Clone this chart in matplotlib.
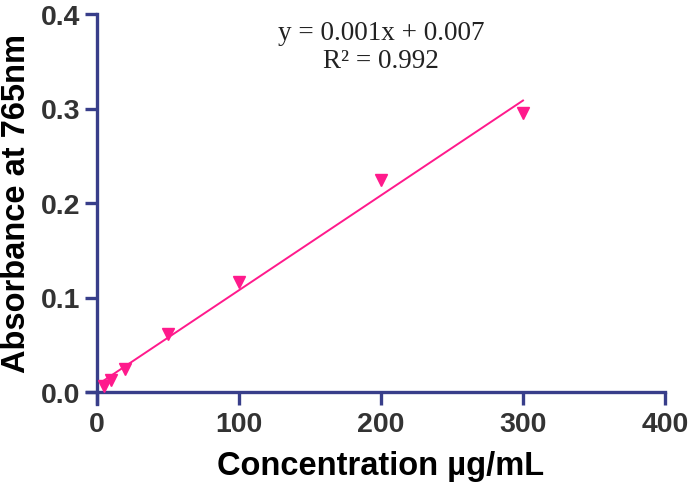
import numpy as np
import matplotlib
matplotlib.use('Agg')
import matplotlib.pyplot as plt

conc = [5, 10, 20, 50, 100, 200, 300]
absorb = [0.006, 0.013, 0.024, 0.061, 0.116, 0.224, 0.295]
eq_text = 'y = 0.001x + 0.007\nR² = 0.992'

AXIS_COLOR = '#383E8A'
PINK = '#FF1A8C'

plt.rcParams['font.family'] = ['Liberation Sans', 'DejaVu Sans']

fig = plt.figure(figsize=(6.89, 4.89), dpi=100)
ax = fig.add_axes([97 / 689, 1 - 393 / 489, 568 / 689, 378 / 489])

slope, icpt = np.polyfit(conc, absorb, 1)
xfit = np.array([3, max(conc)])
ax.plot(xfit, slope * xfit + icpt, color=PINK, lw=1.4, zorder=3)
ax.plot(conc, absorb, 'v', color=PINK, ms=9, mec=PINK, zorder=4, clip_on=False)

ax.set_xlim(0, 400)
ax.set_ylim(0, 0.4)
ax.set_xticks([0, 100, 200, 300, 400])
ax.set_yticks([0.0, 0.1, 0.2, 0.3, 0.4])
ax.set_yticklabels(['0.0', '0.1', '0.2', '0.3', '0.4'])

for s in ['top', 'right']:
    ax.spines[s].set_visible(False)
for s in ['left', 'bottom']:
    ax.spines[s].set_color(AXIS_COLOR)
    ax.spines[s].set_linewidth(2.4)
    ax.spines[s].set_clip_on(False)
ax.spines['left'].set_bounds(-0.0125, 0.4)
ax.spines['bottom'].set_bounds(-7, 400)

ax.tick_params(axis='both', colors=AXIS_COLOR, width=2.4, length=9,
               labelcolor='#333333', labelsize=20.5)
ax.tick_params(axis='x', pad=5)
ax.tick_params(axis='y', pad=3)
for lbl in ax.get_xticklabels() + ax.get_yticklabels():
    lbl.set_fontweight('bold')

ax.set_xlabel('Concentration µg/mL', fontsize=23.5, fontweight='bold', labelpad=9)
ax.set_ylabel('Absorbance at 765nm', fontsize=23.5, fontweight='bold', labelpad=6)

ax.text(0.5, 0.985, eq_text, transform=ax.transAxes, ha='center', va='top',
        family=['Liberation Serif', 'DejaVu Serif'], fontsize=19.5,
        color='#222222', linespacing=1.15)

fig.savefig('out.png', dpi=100)
